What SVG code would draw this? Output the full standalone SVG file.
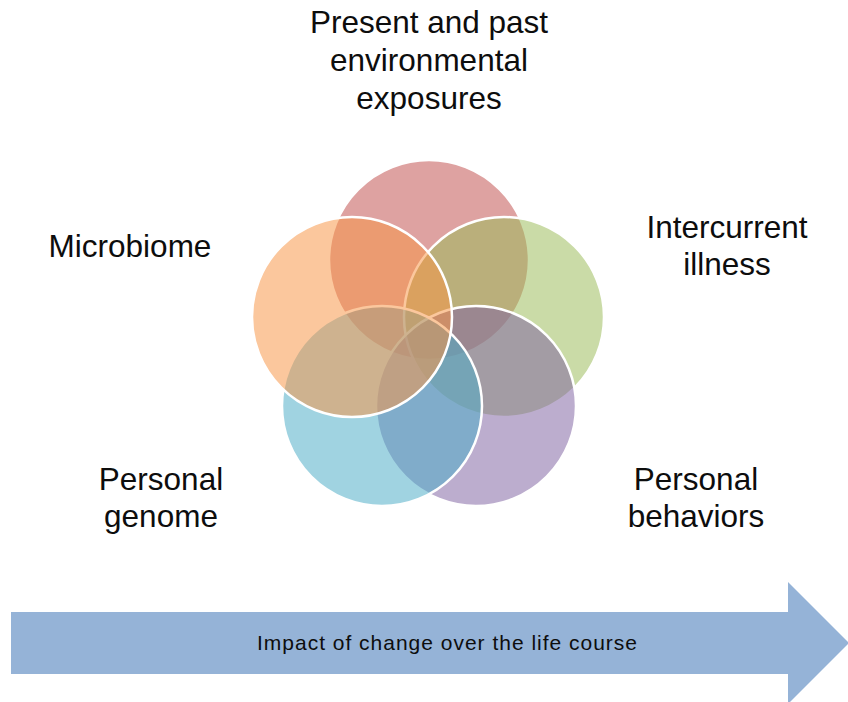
<svg xmlns="http://www.w3.org/2000/svg" width="848" height="702" viewBox="0 0 848 702">
<style>
.c{fill-opacity:0.53;stroke:#ffffff;stroke-width:2.5}
.lbl{font-family:"Liberation Sans",Arial,sans-serif;font-size:31.5px;fill:#0d0d0d;text-anchor:middle}
.arr{font-family:"Liberation Sans",Arial,sans-serif;font-size:21px;fill:#0d0d0d;text-anchor:middle}
</style>
<rect width="848" height="702" fill="#ffffff"/>
<g id="venn">
<g id="node-environment"><circle class="c" cx="429" cy="260" r="100" fill="#C0504D"/></g>
<g id="node-illness"><circle class="c" cx="504" cy="317" r="100" fill="#9BBB59"/></g>
<g id="node-behaviors"><circle class="c" cx="476" cy="406" r="100" fill="#8064A2"/></g>
<g id="node-genome"><circle class="c" cx="382" cy="406" r="100" fill="#4BACC6"/></g>
<g id="node-microbiome"><circle class="c" cx="352" cy="317" r="100" fill="#F79646"/></g>
</g>
<g id="labels">
<g id="label-environment"><text class="lbl" x="429" y="33">Present and past</text><text class="lbl" x="429" y="71">environmental</text><text class="lbl" x="429" y="109">exposures</text></g>
<g id="label-microbiome"><text class="lbl" x="130" y="257">Microbiome</text></g>
<g id="label-illness"><text class="lbl" x="727" y="238">Intercurrent</text><text class="lbl" x="727" y="275">illness</text></g>
<g id="label-genome"><text class="lbl" x="161" y="490">Personal</text><text class="lbl" x="161" y="527">genome</text></g>
<g id="label-behaviors"><text class="lbl" x="696" y="490">Personal</text><text class="lbl" x="696" y="527">behaviors</text></g>
</g>
<g id="arrow">
<polygon points="11,612 788,612 788,582 849,643 788,704 788,674 11,674" fill="#95B3D7"/>
<text class="arr" x="447" y="650" textLength="380" lengthAdjust="spacing">Impact of change over the life course</text>
</g>
</svg>
